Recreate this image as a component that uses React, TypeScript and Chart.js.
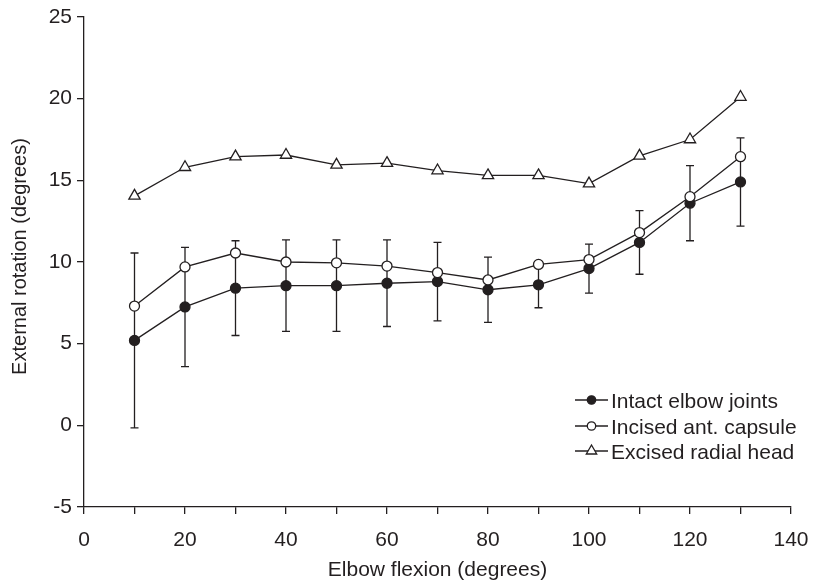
import React, { useEffect, useRef } from 'react';
import { Chart, registerables } from 'chart.js';

Chart.register(...registerables);

// ---- data ----
const flexion = [10, 20, 30, 40, 50, 60, 70, 80, 90, 100, 110, 120, 130];
const intact = [5.2, 7.25, 8.4, 8.55, 8.55, 8.7, 8.8, 8.3, 8.6, 9.6, 11.2, 13.6, 14.9];
const intactSD = [5.35, 3.65, 2.9, 2.8, 2.8, 2.65, 2.4, 2.0, 1.4, 1.5, 1.95, 2.3, 2.7];
const incised = [7.3, 9.7, 10.55, 10.0, 9.95, 9.75, 9.35, 8.9, 9.85, 10.15, 11.8, 14.0, 16.45];
const excised = [14.05, 15.8, 16.45, 16.55, 15.95, 16.05, 15.6, 15.3, 15.3, 14.8, 16.5, 17.5, 20.1];
const seriesNames = ['Intact elbow joints', 'Incised ant. capsule', 'Excised radial head'];
const xTitle = 'Elbow flexion (degrees)';
const yTitle = 'External rotation (degrees)';
const xRange = [0, 140];
const yRange = [-5, 25];

const INK = '#231f20';
const FONT = "'Liberation Sans', Arial, Helvetica, sans-serif";
const FS = 21;

const errorBarPlugin = {
  id: 'errorBars',
  beforeDatasetsDraw(chart: any) {
    const { ctx, scales } = chart;
    const x = scales.x, y = scales.y;
    ctx.save();
    ctx.strokeStyle = INK;
    ctx.lineWidth = 1.3;
    flexion.forEach((f, i) => {
      const px = x.getPixelForValue(f);
      const top = y.getPixelForValue(intact[i] + intactSD[i]);
      const bot = y.getPixelForValue(intact[i] - intactSD[i]);
      ctx.beginPath();
      ctx.moveTo(px, top);
      ctx.lineTo(px, bot);
      ctx.moveTo(px - 4, top);
      ctx.lineTo(px + 4, top);
      ctx.moveTo(px - 4, bot);
      ctx.lineTo(px + 4, bot);
      ctx.stroke();
    });
    ctx.restore();
  },
};

const yTitlePlugin = {
  id: 'yTitle',
  afterDraw(chart: any) {
    const { ctx, chartArea } = chart;
    const cy = (chartArea.top + chartArea.bottom) / 2 - 5.5;
    ctx.save();
    ctx.translate(20.7, cy);
    ctx.rotate(-Math.PI / 2);
    ctx.font = `20px ${FONT}`;
    ctx.fillStyle = INK;
    ctx.textAlign = 'center';
    ctx.textBaseline = 'middle';
    ctx.fillText(yTitle, 0, 0);
    ctx.restore();
  },
};

const legendPlugin = {
  id: 'insideLegend',
  afterDraw(chart: any) {
    const { ctx, chartArea } = chart;
    const right = chartArea.right;
    const bottom = chartArea.bottom;
    const rows = [bottom - 107, bottom - 81, bottom - 56];
    ctx.save();
    ctx.strokeStyle = INK;
    ctx.lineWidth = 1.3;
    ctx.font = `${FS}px ${FONT}`;
    ctx.fillStyle = INK;
    ctx.textBaseline = 'alphabetic';
    ctx.textAlign = 'left';
    rows.forEach((ry, i) => {
      const x0 = right - 216, x1 = right - 183, mx = right - 199.5;
      ctx.beginPath();
      ctx.moveTo(x0, ry);
      ctx.lineTo(x1, ry);
      ctx.stroke();
      ctx.beginPath();
      if (i === 2) {
        const r = 6;
        ctx.moveTo(mx, ry - r);
        ctx.lineTo(mx + r * 0.866, ry + r * 0.5);
        ctx.lineTo(mx - r * 0.866, ry + r * 0.5);
        ctx.closePath();
      } else {
        ctx.arc(mx, ry, 4.2, 0, Math.PI * 2);
      }
      ctx.fillStyle = i === 0 ? INK : '#ffffff';
      ctx.fill();
      ctx.stroke();
      ctx.fillStyle = INK;
      ctx.fillText(seriesNames[i], right - 180, ry + 7.5);
    });
    ctx.restore();
  },
};

export default function App() {
  const ref = useRef<HTMLCanvasElement | null>(null);

  useEffect(() => {
    if (!ref.current) return;
    const mk = (vals: number[]) => flexion.map((f, i) => ({ x: f, y: vals[i] }));
    const chart = new Chart(ref.current, {
      type: 'line',
      data: {
        datasets: [
          {
            label: seriesNames[0],
            data: mk(intact),
            borderColor: INK,
            borderWidth: 1.3,
            pointStyle: 'circle',
            pointRadius: 5,
            pointBackgroundColor: INK,
            pointBorderColor: INK,
            pointBorderWidth: 1.3,
            order: 3,
          },
          {
            label: seriesNames[1],
            data: mk(incised),
            borderColor: INK,
            borderWidth: 1.3,
            pointStyle: 'circle',
            pointRadius: 5,
            pointBackgroundColor: '#ffffff',
            pointBorderColor: INK,
            pointBorderWidth: 1.3,
            order: 2,
          },
          {
            label: seriesNames[2],
            data: mk(excised),
            borderColor: INK,
            borderWidth: 1.3,
            pointStyle: 'triangle',
            pointRadius: 6.5,
            pointBackgroundColor: '#ffffff',
            pointBorderColor: INK,
            pointBorderWidth: 1.3,
            order: 1,
          },
        ],
      },
      options: {
        animation: false,
        responsive: false,
        events: [],
        layout: { padding: { top: 17, right: 28, left: 0, bottom: 0 } },
        plugins: { legend: { display: false }, tooltip: { enabled: false } },
        scales: {
          x: {
            type: 'linear',
            min: xRange[0],
            max: xRange[1],
            afterFit: (s: any) => {
              s.height = 79;
              s.paddingLeft = 0;
              s.paddingRight = 0;
            },
            ticks: {
              stepSize: 10,
              autoSkip: false,
              maxRotation: 0,
              padding: 13.4,
              color: INK,
              font: { family: FONT, size: FS },
              callback: (v: any) => (Number(v) % 20 === 0 ? String(v) : ''),
            },
            grid: { drawOnChartArea: false, drawTicks: true, tickLength: 7, color: INK, lineWidth: 1.3 },
            border: { display: true, color: INK, width: 1.3 },
            title: {
              display: true,
              text: xTitle,
              color: INK,
              font: { family: FONT, size: FS },
              padding: { top: 0, bottom: 3.4 },
            },
          },
          y: {
            type: 'linear',
            min: yRange[0],
            max: yRange[1],
            afterFit: (s: any) => {
              s.width = 84;
              s.paddingTop = 0;
              s.paddingBottom = 0;
            },
            ticks: {
              stepSize: 5,
              padding: 5,
              color: INK,
              font: { family: FONT, size: FS },
            },
            grid: { drawOnChartArea: false, drawTicks: true, tickLength: 7, color: INK, lineWidth: 1.3 },
            border: { display: true, color: INK, width: 1.3 },
            title: { display: false },
          },
        },
      },
      plugins: [errorBarPlugin, legendPlugin, yTitlePlugin],
    } as any);
    return () => chart.destroy();
  }, []);

  return (
    <div style={{ position: 'absolute', left: 0, top: 0, width: 819, height: 586, background: '#fff' }}>
      <canvas ref={ref} width={819} height={586} style={{ display: 'block' }} />
    </div>
  );
}
